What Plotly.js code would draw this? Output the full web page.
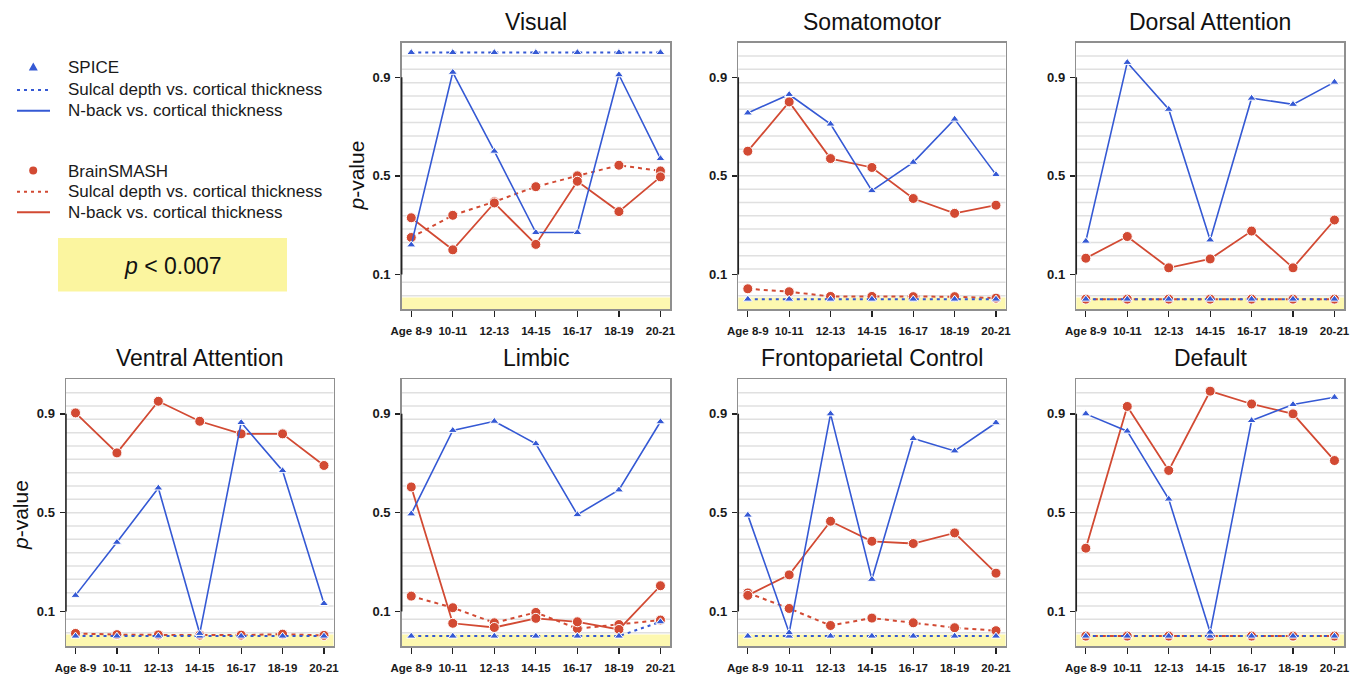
<!DOCTYPE html>
<html>
<head>
<meta charset="utf-8">
<script src="https://cdn.plot.ly/plotly-3.0.1.min.js"></script>
<style>html,body{margin:0;padding:0;background:#fff;}#chart{width:1364px;height:677px;}</style>
</head>
<body>
<div id="chart"></div>
<script>
// ---------------- DATA ----------------
const ages = ["Age 8-9", "10-11", "12-13", "14-15", "16-17", "18-19", "20-21"];
const networks = ["Visual", "Somatomotor", "Dorsal Attention", "Ventral Attention", "Limbic", "Frontoparietal Control", "Default"];

// one row per network (same order as `networks`), one value per age group
const spiceSulcal = [
  [1.0, 1.0, 1.0, 1.0, 1.0, 1.0, 1.0],
  [0.0, 0.0, 0.0, 0.0, 0.0, 0.0, 0.0],
  [0.0, 0.0, 0.0, 0.0, 0.0, 0.0, 0.0],
  [0.0, 0.0, 0.0, 0.0, 0.0, 0.0, 0.0],
  [0.0, 0.0, 0.0, 0.0, 0.0, 0.0, 0.058],
  [0.0, 0.0, 0.0, 0.0, 0.0, 0.0, 0.0],
  [0.0, 0.0, 0.0, 0.0, 0.0, 0.0, 0.0]
];
const spiceNback = [
  [0.22, 0.92, 0.60, 0.27, 0.27, 0.91, 0.57],
  [0.755, 0.83, 0.71, 0.44, 0.555, 0.73, 0.505],
  [0.235, 0.96, 0.77, 0.24, 0.815, 0.79, 0.88],
  [0.165, 0.38, 0.60, 0.011, 0.865, 0.67, 0.132],
  [0.495, 0.833, 0.870, 0.779, 0.492, 0.592, 0.868],
  [0.49, 0.014, 0.90, 0.23, 0.80, 0.75, 0.864],
  [0.90, 0.83, 0.555, 0.016, 0.873, 0.938, 0.967]
];
const smashSulcal = [
  [0.25, 0.34, 0.395, 0.456, 0.50, 0.543, 0.52],
  [0.042, 0.030, 0.011, 0.011, 0.010, 0.010, 0.004],
  [0.0, 0.0, 0.0, 0.0, 0.0, 0.0, 0.0],
  [0.011, 0.006, 0.005, 0.004, 0.004, 0.008, 0.003],
  [0.162, 0.115, 0.054, 0.096, 0.030, 0.047, 0.065],
  [0.175, 0.112, 0.043, 0.073, 0.054, 0.034, 0.022],
  [0.0, 0.0, 0.0, 0.0, 0.0, 0.0, 0.0]
];
const smashNback = [
  [0.33, 0.20, 0.39, 0.222, 0.478, 0.355, 0.496],
  [0.60, 0.80, 0.57, 0.534, 0.408, 0.348, 0.381],
  [0.166, 0.254, 0.127, 0.163, 0.276, 0.127, 0.321],
  [0.904, 0.742, 0.951, 0.870, 0.819, 0.819, 0.691],
  [0.604, 0.052, 0.035, 0.072, 0.058, 0.027, 0.204],
  [0.165, 0.248, 0.465, 0.384, 0.375, 0.418, 0.255],
  [0.356, 0.930, 0.671, 0.992, 0.940, 0.900, 0.711]
];
const yTicks = [0.1, 0.5, 0.9];
const threshold = 0.007;
const legendLabels = ["SPICE", "Sulcal depth vs. cortical thickness", "N-back vs. cortical thickness",
                      "BrainSMASH", "Sulcal depth vs. cortical thickness", "N-back vs. cortical thickness"];

// ---------------- STYLE / LAYOUT ----------------
const W = 1364, H = 677;
const BLUE = "#3559d4", RED = "#d24a33";
const FONT = "Liberation Sans, Arial, Helvetica, sans-serif";
const px = x => x / W;
const py = y => 1 - y / H;

const colX = [[66, 333.5], [401.7, 670], [738.3, 1005.5], [1076.3, 1344]];
const rowY = [[42.7, 309], [379.3, 646]];
const cells = [[0, 1], [0, 2], [0, 3], [1, 0], [1, 1], [1, 2], [1, 3]]; // [row, col] per network
const Y0 = -0.04, Y1 = 1.04;

const data = [];
const shapes = [];
const annotations = [];
const layout = {
  width: W, height: H,
  margin: {l: 0, r: 0, t: 0, b: 0},
  paper_bgcolor: "#ffffff",
  plot_bgcolor: "#ffffff",
  showlegend: false,
  font: {family: FONT, color: "#222"}
};

networks.forEach((name, i) => {
  const n = i === 0 ? "" : String(i + 1);
  const xr = "x" + n, yr = "y" + n;
  const [r, c] = cells[i];
  const xd = [px(colX[c][0]), px(colX[c][1])];
  const yd = [py(rowY[r][1]), py(rowY[r][0])];

  layout["xaxis" + n] = {
    domain: xd, anchor: yr, type: "category", categoryarray: ages, categoryorder: "array",
    range: [-0.23, 6.23], tickvals: ages, ticktext: ages,
    ticks: "outside", ticklen: 6, tickwidth: 1.3, tickcolor: "#222",
    ticklabelstandoff: 5,
    tickfont: {family: FONT, size: 11.5, color: "#1a1a1a", weight: "bold"},
    showgrid: false, zeroline: false, showline: true, mirror: true,
    linecolor: "#8f8f8f", linewidth: 1.5, fixedrange: true
  };
  layout["yaxis" + n] = {
    domain: yd, anchor: xr, range: [Y0, Y1],
    tickmode: "array", tickvals: yTicks, ticktext: yTicks.map(v => v.toFixed(1)),
    ticks: "outside", ticklen: 5, tickwidth: 1.3, tickcolor: "#222",
    ticklabelstandoff: 2,
    tickfont: {family: FONT, size: 13, color: "#1a1a1a", weight: "bold"},
    showgrid: false, zeroline: false, showline: true, mirror: true,
    linecolor: "#8f8f8f", linewidth: 1.5, fixedrange: true
  };

  // significance band
  shapes.push({type: "rect", xref: xr + " domain", yref: yr, x0: 0, x1: 1, y0: Y0, y1: threshold,
               fillcolor: "#fdf8b0", line: {width: 0}, layer: "below"});
  // 20 equal horizontal bands
  for (let k = 1; k < 20; k++) {
    const yv = Y0 + k * (Y1 - Y0) / 20;
    shapes.push({type: "line", xref: xr + " domain", yref: yr, x0: 0, x1: 1, y0: yv, y1: yv,
                 line: {color: "#e0e0e0", width: 1.5}, layer: "below"});
  }
  // dark axis segment between first and last tick
  shapes.push({type: "line", xref: xr + " domain", yref: yr, x0: 0, x1: 0, y0: yTicks[0], y1: yTicks[yTicks.length - 1],
               line: {color: "#222", width: 1.5}, layer: "above"});

  const common = {xaxis: xr, yaxis: yr, type: "scatter", mode: "lines+markers", x: ages, hoverinfo: "skip"};
  data.push(Object.assign({}, common, {y: smashSulcal[i], line: {color: RED, width: 2, dash: "4px,4px"},
    marker: {symbol: "circle", size: 10, color: RED, line: {color: "#fff", width: 1}}}));
  data.push(Object.assign({}, common, {y: smashNback[i], line: {color: RED, width: 1.8},
    marker: {symbol: "circle", size: 10, color: RED, line: {color: "#fff", width: 1}}}));
  data.push(Object.assign({}, common, {y: spiceSulcal[i], line: {color: BLUE, width: 2, dash: "3px,4px"},
    marker: {symbol: "triangle-up", size: 8, color: BLUE, line: {color: "#fff", width: 1}}}));
  data.push(Object.assign({}, common, {y: spiceNback[i], line: {color: BLUE, width: 1.6},
    marker: {symbol: "triangle-up", size: 8, color: BLUE, line: {color: "#fff", width: 1}}}));

  // panel title
  annotations.push({xref: "paper", yref: "paper", x: (xd[0] + xd[1]) / 2, y: py(r === 0 ? 22 : 358.5),
    xanchor: "center", yanchor: "middle", showarrow: false, text: name,
    font: {family: FONT, size: 23, color: "#111"}});
});

// y-axis titles
[[356.5, 176], [20, 515]].forEach(([x, y]) => {
  annotations.push({xref: "paper", yref: "paper", x: px(x), y: py(y), xanchor: "center", yanchor: "middle",
    showarrow: false, textangle: -90, text: "<i>p</i>-value", font: {family: FONT, size: 21, color: "#111"}});
});

// ---------------- custom legend ----------------
const legY = [67.5, 90, 110.7, 171, 191.7, 212.3];
legendLabels.forEach((t, k) => {
  annotations.push({xref: "paper", yref: "paper", x: px(66), y: py(legY[k]), xanchor: "left", yanchor: "middle",
    showarrow: false, text: t, font: {family: FONT, size: 17, color: "#1a1a1a"}});
});
// SPICE triangle
shapes.push({type: "path", xref: "paper", yref: "paper",
  path: `M ${px(33.3)} ${py(62.5)} L ${px(28.8)} ${py(70.5)} L ${px(37.8)} ${py(70.5)} Z`,
  fillcolor: BLUE, line: {width: 0}});
shapes.push({type: "line", xref: "paper", yref: "paper", x0: px(17), x1: px(50), y0: py(legY[1]), y1: py(legY[1]),
  line: {color: BLUE, width: 2, dash: "3px,4px"}});
shapes.push({type: "line", xref: "paper", yref: "paper", x0: px(17), x1: px(50), y0: py(legY[2]), y1: py(legY[2]),
  line: {color: BLUE, width: 2}});
// BrainSMASH circle
shapes.push({type: "circle", xref: "paper", yref: "paper", x0: px(29.2), x1: px(37.2), y0: py(174.5), y1: py(166.5),
  fillcolor: RED, line: {width: 0}});
shapes.push({type: "line", xref: "paper", yref: "paper", x0: px(17), x1: px(50), y0: py(legY[4]), y1: py(legY[4]),
  line: {color: RED, width: 2, dash: "3px,4px"}});
shapes.push({type: "line", xref: "paper", yref: "paper", x0: px(17), x1: px(50), y0: py(legY[5]), y1: py(legY[5]),
  line: {color: RED, width: 2}});
// threshold box
shapes.push({type: "rect", xref: "paper", yref: "paper", x0: px(58), x1: px(287), y0: py(291.5), y1: py(238),
  fillcolor: "#fbf59f", line: {width: 0}});
annotations.push({xref: "paper", yref: "paper", x: px(172.5), y: py(266), xanchor: "center", yanchor: "middle",
  showarrow: false, text: "<i>p</i> < " + threshold, font: {family: FONT, size: 23, color: "#111"}});

layout.shapes = shapes;
layout.annotations = annotations;

Plotly.newPlot("chart", data, layout, {displayModeBar: false, staticPlot: true});
</script>
</body>
</html>
